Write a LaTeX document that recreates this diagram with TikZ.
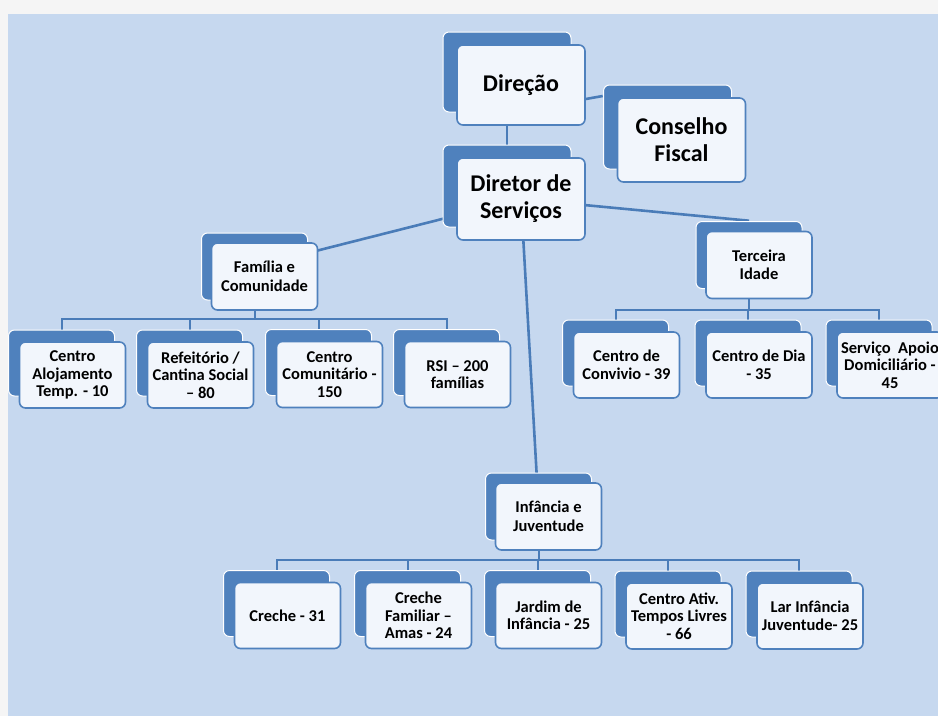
\documentclass[tikz,border=0pt]{standalone}
\usepackage{fontspec}
\setmainfont{Carlito}
\usetikzlibrary{shadows}
\definecolor{fundo}{HTML}{C6D8EF}
\definecolor{azul}{HTML}{4F81BD}
\definecolor{linha}{HTML}{4A7CB8}
\definecolor{caixa}{HTML}{F2F6FC}
\pgfdeclarelayer{fundolayer}
\pgfdeclarelayer{linhas}
\pgfsetlayers{fundolayer,linhas,main}
\tikzset{
  caixabase/.style={draw=azul, line width=1.6pt, fill=caixa, rounded corners=6pt,
    align=center, text=black, font=\bfseries, inner sep=1pt},
  caixagrande/.style={caixabase, minimum width=128pt, minimum height=80pt,
    font=\bfseries\fontsize{24}{27}\selectfont,
    copy shadow={shadow xshift=-14pt, shadow yshift=13pt, fill=azul, draw=white, line width=1pt}},
  caixamedia/.style={caixabase, minimum width=106pt, minimum height=67pt,
    font=\bfseries\fontsize{16.5}{18.5}\selectfont,
    copy shadow={shadow xshift=-10pt, shadow yshift=10pt, fill=azul, draw=white, line width=1pt}},
  caixapeq/.style={caixabase, minimum width=106pt, minimum height=66pt,
    font=\bfseries\fontsize{16.5}{17.5}\selectfont,
    copy shadow={shadow xshift=-11pt, shadow yshift=12pt, fill=azul, draw=white, line width=1pt}},
  ligacao/.style={draw=linha, line width=2.6pt},
  arvore/.style={draw=linha, line width=2pt},
}
\begin{document}
\begin{tikzpicture}[x=1pt, y=-1pt]
  \useasboundingbox (0,0) rectangle (938,716);
  \begin{pgfonlayer}{fundolayer}
    \fill[gray!8] (0,0) rectangle (938,716);
    \fill[fundo] (8,14) rectangle (938,716);
  \end{pgfonlayer}

  % topo
  \node[caixagrande] (dir) at (521,85) {Direção};
  \node[caixagrande, minimum height=84pt] (cons) at (681.5,140) {Conselho\\Fiscal};
  \node[caixagrande, minimum height=82pt] (serv) at (521,199) {Diretor de\\Serviços};

  % familia e comunidade
  \node[caixamedia] (fam) at (264.5,276.5) {Família e\\Comunidade};
  \node[caixapeq] (aloj) at (72.5,375) {Centro\\Alojamento\\Temp. - 10};
  \node[caixapeq] (refe) at (200.5,375) {Refeitório /\\Cantina Social\\– 80};
  \node[caixapeq] (comu) at (329.5,374.5) {Centro\\Comunitário -\\150};
  \node[caixapeq] (rsi) at (457.5,374.5) {RSI – 200\\famílias};

  % terceira idade
  \node[caixamedia] (ter) at (759,265) {Terceira\\Idade};
  \node[caixapeq] (conv) at (626.5,365) {Centro de\\Convivio - 39};
  \node[caixapeq] (dia) at (759,365) {Centro de Dia\\- 35};
  \node[caixapeq] (apoio) at (890,365) {Serviço~~Apoio\\Domiciliário -\\45};

  % infancia e juventude
  \node[caixamedia] (inf) at (548.5,516.5) {Infância e\\Juventude};
  \node[caixapeq] (cre) at (287.5,615.5) {Creche - 31};
  \node[caixapeq] (cfam) at (418.5,615.5) {Creche\\Familiar –\\Amas - 24};
  \node[caixapeq] (jard) at (548.5,615.5) {Jardim de\\Infância - 25};
  \node[caixapeq] (catl) at (679,616) {Centro Ativ.\\Tempos Livres\\- 66};
  \node[caixapeq] (lar) at (810,616) {Lar Infância\\Juventude- 25};

  \begin{pgfonlayer}{linhas}
    \draw[ligacao] ([shift={(-14,-13)}]dir.center) -- ([shift={(-14,-13)}]serv.center);
    \draw[ligacao] ([shift={(-14,28)}]dir.center) -- ([shift={(-14,-44)}]cons.west);
    \draw[ligacao] (serv.center) -- ([shift={(-10,-10)}]fam.center);
    \draw[ligacao] (serv.center) -- ([shift={(-10,-10)}]ter.north);
    \draw[ligacao] (serv.center) -- ([shift={(-10,-10)}]inf.center);

    \draw[arvore] ([shift={(-10,-10)}]fam.center) -- ++(0,52.5) coordinate (barfam);
    \foreach \f in {aloj,refe,comu,rsi}
      \draw[arvore] (barfam) -| ([shift={(-11,-12)}]\f.center);

    \draw[arvore] ([shift={(-10,-10)}]ter.center) -- ++(0,55) coordinate (barter);
    \foreach \f in {conv,dia,apoio}
      \draw[arvore] (barter) -| ([shift={(-11,-12)}]\f.center);

    \draw[arvore] ([shift={(-10,-10)}]inf.center) -- ++(0,53.5) coordinate (barinf);
    \foreach \f in {cre,cfam,jard,catl,lar}
      \draw[arvore] (barinf) -| ([shift={(-11,-12)}]\f.center);
  \end{pgfonlayer}
\end{tikzpicture}
\end{document}
